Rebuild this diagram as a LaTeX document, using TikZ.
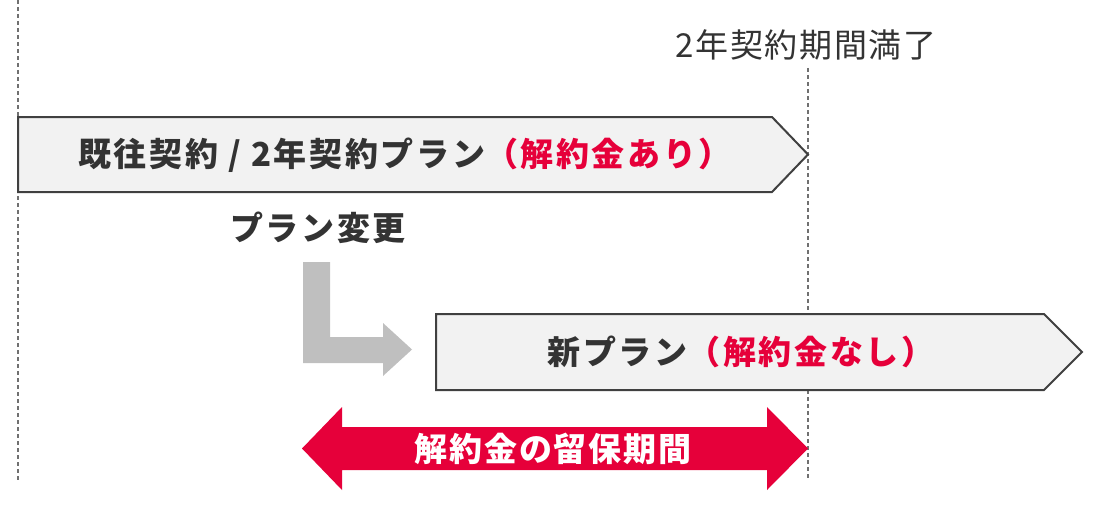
\documentclass[tikz,border=0pt]{standalone}
\usepackage{fontspec}
\setmainfont{Noto Sans CJK JP}
\newfontfamily\jpwide[LetterSpace=5]{Noto Sans CJK JP}
\newfontfamily\jpbox[LetterSpace=8]{Noto Sans CJK JP}
\newfontfamily\jparr[LetterSpace=6]{Noto Sans CJK JP}
\definecolor{txtgray}{HTML}{333333}
\definecolor{plred}{HTML}{E6003A}
\definecolor{boxfill}{HTML}{F2F2F2}
\definecolor{boxline}{HTML}{404040}
\definecolor{arrgray}{HTML}{BFBFBF}
\definecolor{dashgray}{HTML}{707070}
\begin{document}
\begin{tikzpicture}[x=1pt,y=-1pt,
  guide/.style={draw=dashgray,line width=1.3pt,dash pattern=on 4pt off 3pt},
  planbox/.style={fill=boxfill,draw=boxline,line width=2pt,line join=miter},
  lbl/.style={inner sep=0pt,text=txtgray,font=\jpbox\bfseries\fontsize{33}{38}\selectfont}]
\useasboundingbox (0,0) rectangle (1100,511);
% guides
\coordinate (g1t) at (18,0);
\coordinate (g1b) at (18,480);
\coordinate (g2t) at (808,68);
\coordinate (g2b) at (808,480);
\draw[guide] (g1t) -- (g1b);
\draw[guide] (g2t) -- (g2b);
% top label
\node[lbl,font=\jpwide\fontsize{33}{38}\selectfont] (end) at (806,45) {2年契約期間満了};
% box 1
\draw[planbox] (18,117) -- (772,117) -- (808,154.5) -- (772,192) -- (18,192) -- cycle;
\node[lbl] (old) at (405,155) {既往契約 / 2年契約プラン\textcolor{plred}{（解約金あり）}};
% plan change label
\node[lbl] (chg) at (318,228) {プラン変更};
% gray L arrow
\fill[arrgray] (303,262) -- (330,262) -- (330,337) -- (383,337) -- (383,323) -- (412,349.5) -- (383,376) -- (383,363) -- (303,363) -- cycle;
% box 2
\draw[planbox] (436,314) -- (1044,314) -- (1082,352) -- (1044,390) -- (436,390) -- cycle;
\node[lbl] (new) at (741,352) {新プラン\textcolor{plred}{（解約金なし）}};
% red double arrow
\fill[plred] (302,448.5) -- (342,407) -- (342,427) -- (767,427) -- (767,407) -- (808,448.5) -- (767,490) -- (767,470) -- (342,470) -- (342,490) -- cycle;
\node[lbl,text=white,font=\jparr\bfseries\fontsize{33}{38}\selectfont] (hold) at (553,449) {解約金の留保期間};
\end{tikzpicture}
\end{document}
